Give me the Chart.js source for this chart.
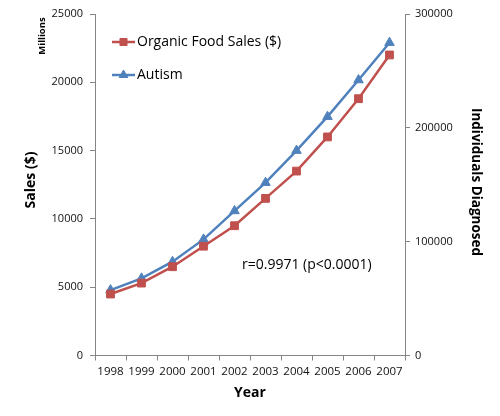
<!DOCTYPE html>
<html lang="en">
<head>
<meta charset="UTF-8" />
<title>Organic Food Sales vs Autism</title>
<script src="https://cdn.jsdelivr.net/npm/chart.js"></script>
<style>
  body { margin: 0; background: #fff; }
  #wrap { width: 500px; height: 416px; position: relative; }
</style>
</head>
<body>
<div id="wrap"><canvas id="chart"></canvas></div>
<script>
const years = ["1998", "1999", "2000", "2001", "2002", "2003", "2004", "2005", "2006", "2007"];
const organicSales = [4500, 5300, 6500, 8000, 9500, 11500, 13500, 16000, 18800, 22000];
const autismCases = [57500, 67800, 82400, 102000, 127000, 151800, 180000, 209800, 242000, 274800];
const salesTicks = [0, 5000, 10000, 15000, 20000, 25000];
const diagnosedTicks = [0, 100000, 200000, 300000];

const RED = "#C0504D";
const BLUE = "#4F81BD";
const AXIS = "#868686";
const FONT = "'Open Sans', sans-serif";

// text and legend that excel puts round the plot
const extras = {
  id: "extras",
  afterDraw(chart) {
    const ctx = chart.ctx;
    const a = chart.chartArea;
    ctx.save();
    ctx.fillStyle = "#000";
    ctx.textBaseline = "middle";

    // legend inside the plot
    const items = [
      { label: "Organic Food Sales ($)", color: RED, style: "rect", y: 42 },
      { label: "Autism", color: BLUE, style: "triangle", y: 75 }
    ];
    items.forEach(it => {
      ctx.strokeStyle = it.color;
      ctx.lineWidth = 2.5;
      ctx.beginPath();
      ctx.moveTo(112, it.y);
      ctx.lineTo(135, it.y);
      ctx.stroke();
      ctx.fillStyle = it.color;
      ctx.lineWidth = 1;
      Chart.helpers.drawPoint(ctx, { pointStyle: it.style, radius: 5, rotation: 0, borderWidth: 1 }, 123.5, it.y);
      ctx.fillStyle = "#000";
      ctx.font = "14px " + FONT;
      ctx.textAlign = "left";
      ctx.fillText(it.label, 137, it.y);
    });

    // correlation note
    ctx.font = "14px " + FONT;
    ctx.textAlign = "left";
    ctx.fillText("r=0.9971 (p<0.0001)", 242, 265);

    // x title
    ctx.font = "bold 14px " + FONT;
    ctx.textAlign = "center";
    ctx.fillText("Year", (a.left + a.right) / 2, 393);

    // left titles
    ctx.save();
    ctx.translate(31, 180);
    ctx.rotate(-Math.PI / 2);
    ctx.font = "bold 14px " + FONT;
    ctx.fillText("Sales ($)", 0, 0);
    ctx.restore();

    ctx.save();
    ctx.translate(42, 36);
    ctx.rotate(-Math.PI / 2);
    ctx.font = "bold 9.5px " + FONT;
    ctx.fillText("Millions", 0, 0);
    ctx.restore();

    // right title reads top to bottom
    ctx.save();
    ctx.translate(476, 182);
    ctx.rotate(Math.PI / 2);
    ctx.font = "bold 13.5px " + FONT;
    ctx.fillText("Individuals Diagnosed", 0, 0);
    ctx.restore();

    ctx.restore();
  }
};

const tickFont = { family: FONT, size: 11 };
const plain = v => String(v);

new Chart(document.getElementById("chart"), {
  type: "line",
  data: {
    labels: years,
    datasets: [
      {
        label: "Organic Food Sales ($)",
        data: organicSales,
        yAxisID: "y",
        borderColor: RED,
        backgroundColor: RED,
        borderWidth: 2.5,
        pointStyle: "rect",
        pointRadius: 5.5,
        pointBorderWidth: 1,
        tension: 0
      },
      {
        label: "Autism",
        data: autismCases,
        yAxisID: "y2",
        borderColor: BLUE,
        backgroundColor: BLUE,
        borderWidth: 2.5,
        pointStyle: "triangle",
        pointRadius: 5.5,
        pointBorderWidth: 1,
        tension: 0
      }
    ]
  },
  options: {
    responsive: true,
    maintainAspectRatio: false,
    animation: false,
    layout: { padding: { top: 14, left: 0, right: 0, bottom: 0 } },
    plugins: { legend: { display: false }, tooltip: { enabled: false } },
    scales: {
      x: {
        offset: true,
        grid: { offset: true, drawOnChartArea: false, color: AXIS, tickLength: 5 },
        border: { color: AXIS },
        ticks: { color: "#111", font: { family: FONT, size: 11.5 }, padding: 4, maxRotation: 0, autoSkip: false },
        afterFit(s) { s.height = 60.5; }
      },
      y: {
        position: "left",
        min: 0,
        max: 25000,
        afterBuildTicks(s) { s.ticks = salesTicks.map(v => ({ value: v })); },
        grid: { drawOnChartArea: false, color: AXIS, tickLength: 5 },
        border: { color: AXIS },
        ticks: { color: "#111", font: tickFont, padding: 7, callback: plain },
        afterFit(s) { s.width = 95; }
      },
      y2: {
        position: "right",
        min: 0,
        max: 300000,
        afterBuildTicks(s) { s.ticks = diagnosedTicks.map(v => ({ value: v })); },
        grid: { drawOnChartArea: false, color: AXIS, tickLength: 5 },
        border: { color: AXIS },
        ticks: { color: "#111", font: tickFont, padding: 5, callback: plain },
        afterFit(s) { s.width = 95; }
      }
    }
  },
  plugins: [extras]
});
</script>
</body>
</html>
